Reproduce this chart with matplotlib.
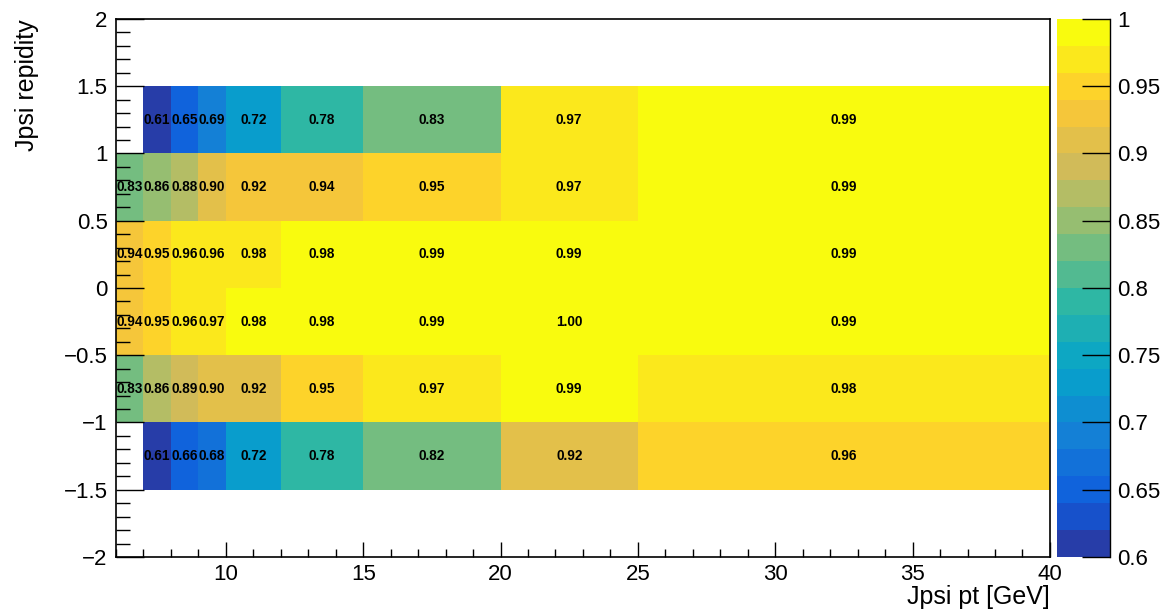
import numpy as np
import matplotlib
matplotlib.use('Agg')
from matplotlib import pyplot as plt
from matplotlib.colors import LinearSegmentedColormap, ListedColormap, BoundaryNorm
from matplotlib.ticker import FuncFormatter, MultipleLocator

# bin edges
pt_edges = [6, 7, 8, 9, 10, 12, 15, 20, 25, 40]
y_edges = [-1.5, -1.0, -0.5, 0.0, 0.5, 1.0, 1.5]

# efficiency per bin, rows from y=-1.5 upward (third digit)
eff = [
    [np.nan, 0.611, 0.658, 0.678, 0.721, 0.781, 0.821, 0.918, 0.958],
    [0.831, 0.861, 0.891, 0.901, 0.918, 0.951, 0.971, 0.991, 0.978],
    [0.938, 0.951, 0.961, 0.968, 0.981, 0.982, 0.991, 0.998, 0.991],
    [0.938, 0.951, 0.961, 0.962, 0.978, 0.981, 0.991, 0.991, 0.991],
    [0.831, 0.858, 0.878, 0.901, 0.921, 0.938, 0.951, 0.971, 0.991],
    [np.nan, 0.611, 0.651, 0.691, 0.721, 0.781, 0.831, 0.971, 0.991],
]
zmin, zmax, ncont = 0.6, 1.0, 20
cbar_ticks = [0.6, 0.65, 0.7, 0.75, 0.8, 0.85, 0.9, 0.95, 1.0]

# ROOT kBird palette
stops = [0.0, 0.125, 0.25, 0.375, 0.5, 0.625, 0.75, 0.875, 1.0]
red = [0.2082, 0.0592, 0.0780, 0.0232, 0.1802, 0.5301, 0.8186, 0.9956, 0.9764]
green = [0.1664, 0.3599, 0.5041, 0.6419, 0.7178, 0.7492, 0.7328, 0.7862, 0.9832]
blue = [0.5293, 0.8684, 0.8385, 0.7914, 0.6425, 0.4662, 0.3499, 0.1968, 0.0539]
bird = LinearSegmentedColormap.from_list('bird', list(zip(stops, zip(red, green, blue))), N=255)
cols = [bird(int((i + 0.99) * 255 / ncont) / 254.) for i in range(ncont)]
cmap = ListedColormap(cols)
cmap.set_bad('white', 0)
levels = np.linspace(zmin, zmax, ncont + 1)
norm = BoundaryNorm(levels, ncont)

plt.rcParams['font.family'] = ['Liberation Sans', 'DejaVu Sans']
plt.rcParams['axes.linewidth'] = 1.2

fig = plt.figure(figsize=(11.63, 6.12), dpi=100)
ax = fig.add_axes([0.0997, 0.0899, 0.8031, 0.8791])
Z = np.ma.masked_invalid(np.array(eff))
ax.pcolormesh(pt_edges, y_edges, Z, cmap=cmap, norm=norm)

for j in range(len(y_edges) - 1):
    for i in range(len(pt_edges) - 1):
        v = eff[j][i]
        if np.isnan(v):
            continue
        xc = 0.5 * (pt_edges[i] + pt_edges[i + 1])
        yc = 0.5 * (y_edges[j] + y_edges[j + 1])
        ax.text(xc, yc, '%.2f' % v, ha='center', va='center', fontsize=9.8,
                fontweight='bold', color='black')

ax.set_xlim(6, 40)
ax.set_ylim(-2, 2)
ax.xaxis.set_major_locator(MultipleLocator(5))
ax.xaxis.set_minor_locator(MultipleLocator(1))
ax.yaxis.set_major_locator(MultipleLocator(0.5))
ax.yaxis.set_minor_locator(MultipleLocator(0.1))
fmt = FuncFormatter(lambda v, p: ('%g' % round(v, 3)).replace('-', '\u2212'))
ax.yaxis.set_major_formatter(fmt)
ax.xaxis.set_major_formatter(fmt)
ax.tick_params(axis='x', which='major', direction='in', length=11, width=1, labelsize=16, pad=5)
ax.tick_params(axis='x', which='minor', direction='in', length=5.5, width=1)
ax.tick_params(axis='y', which='major', direction='in', length=20, width=1, labelsize=16, pad=6)
ax.tick_params(axis='y', which='minor', direction='in', length=10, width=1)
ax.set_xlabel('Jpsi pt [GeV]', fontsize=18, loc='right', labelpad=0)
ax.set_ylabel('Jpsi repidity', fontsize=18, loc='top', labelpad=18)

cax = fig.add_axes([0.9089, 0.0899, 0.0455, 0.8791])
cy = np.linspace(zmin, zmax, ncont + 1)
cax.pcolormesh([0, 1], cy, (0.5 * (cy[:-1] + cy[1:])).reshape(-1, 1), cmap=cmap, norm=norm)
cax.set_xlim(0, 1)
cax.set_ylim(zmin, zmax)
for s in ['left', 'top', 'bottom']:
    cax.spines[s].set_visible(False)
cax.spines['right'].set_linewidth(1)
cax.set_xticks([])
cax.yaxis.tick_right()
cax.set_yticks(cbar_ticks)
cax.yaxis.set_major_formatter(fmt)
cax.tick_params(axis='y', direction='in', length=20, width=1, labelsize=16, pad=5)

fig.savefig('out.png', dpi=100)
